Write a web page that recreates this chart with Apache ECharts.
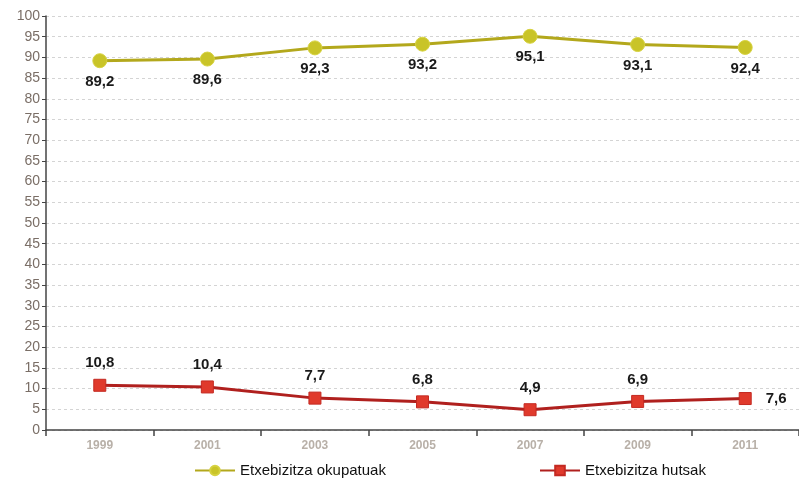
<!DOCTYPE html>
<html>
<head>
<meta charset="utf-8">
<script src="https://cdn.jsdelivr.net/npm/echarts@6/dist/echarts.min.js"></script>
<style>
  * { margin: 0; padding: 0; }
  body { background: #fff; }
  #chart { width: 799px; height: 484px; }
</style>
</head>
<body>
<div id="chart"></div>
<script>
// urteak eta balioak (%)
var years = ['1999', '2001', '2003', '2005', '2007', '2009', '2011']
var okupatuak = [89.2, 89.6, 92.3, 93.2, 95.1, 93.1, 92.4]
var hutsak = [10.8, 10.4, 7.7, 6.8, 4.9, 6.9, 7.6]

var fmt = function (p) { return String(p.value).replace('.', ',') }
var labelFont = { fontFamily: 'Liberation Sans', fontSize: 15, fontWeight: 'bold', color: '#1a1a1a' }
var legendFont = { fontFamily: 'Liberation Sans', fontSize: 15, color: '#111' }

// azken puntuaren etiketa eskuinean
var hutsakData = hutsak.map(function (v, i) {
  if (i === hutsak.length - 1) return { value: v, label: { position: 'right', distance: 14 } }
  return v
})

var chart = echarts.init(document.getElementById('chart'))
chart.setOption({
  animation: false,
  grid: { left: 46, top: 16, right: -9, bottom: 54 },
  legend: [{
    left: 189, top: 458,
    itemWidth: 40, itemHeight: 12, itemGap: 10,
    textStyle: legendFont,
    data: ['Etxebizitza okupatuak']
  }, {
    left: 534, top: 458,
    itemWidth: 40, itemHeight: 12,
    textStyle: legendFont,
    data: ['Etxebizitza hutsak']
  }],
  xAxis: {
    type: 'category',
    boundaryGap: true,
    data: years,
    axisLine: { lineStyle: { color: '#444', width: 1.5 } },
    axisTick: { show: true, length: 6, lineStyle: { color: '#444', width: 1.5 } },
    axisLabel: { fontFamily: 'Liberation Sans', fontSize: 12, fontWeight: 'bold', color: '#b8b0a8', margin: 10 }
  },
  yAxis: {
    type: 'value',
    min: 0, max: 100, interval: 5,
    axisLine: { show: true, lineStyle: { color: '#444', width: 1.5 } },
    axisTick: { show: true, length: 4, lineStyle: { color: '#444' } },
    axisLabel: { fontFamily: 'Liberation Sans', fontSize: 14, color: '#7a6e66', margin: 6 },
    splitLine: { lineStyle: { color: '#d4d4d4', type: [3, 3] } }
  },
  series: [{
    name: 'Etxebizitza okupatuak',
    type: 'line',
    data: okupatuak,
    symbol: 'circle',
    symbolSize: 14,
    lineStyle: { color: '#b3a81c', width: 3 },
    itemStyle: { color: '#c9c428', borderColor: '#d6d240', borderWidth: 1 },
    label: Object.assign({ show: true, position: 'bottom', distance: 6, formatter: fmt }, labelFont)
  }, {
    name: 'Etxebizitza hutsak',
    type: 'line',
    data: hutsakData,
    symbol: 'rect',
    symbolSize: 12,
    lineStyle: { color: '#b0201e', width: 3 },
    itemStyle: { color: '#e03a2c', borderColor: '#c42a22', borderWidth: 1 },
    label: Object.assign({ show: true, position: 'top', distance: 8, formatter: fmt }, labelFont)
  }]
})
</script>
</body>
</html>
